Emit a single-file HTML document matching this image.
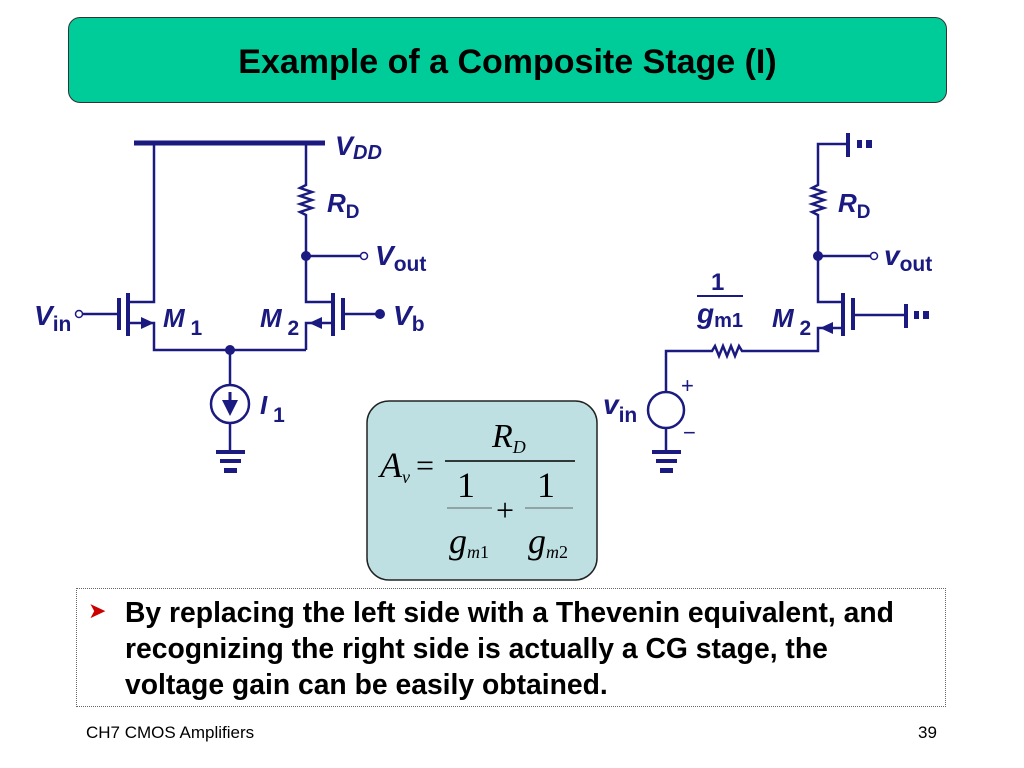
<!DOCTYPE html>
<html><head><meta charset="utf-8"><style>
body{margin:0;width:1024px;height:768px;background:#fff;overflow:hidden;position:relative;font-family:"Liberation Sans",Arial,sans-serif}
.title{position:absolute;left:68px;top:17px;width:877px;height:84px;background:#00cc99;border:1px solid #333;border-radius:12px;text-align:center;line-height:88px;font-size:34px;font-weight:bold;color:#000}
.bul{position:absolute;left:76px;top:588px;width:870px;height:119px;border:1px dotted #666;box-sizing:border-box}
.bt{position:absolute;left:125px;top:594px;font-size:28.3px;font-weight:bold;line-height:36px;color:#000;white-space:nowrap}
.arrow{position:absolute;left:88px;top:598px;color:#cc0000;font-size:22px}
.foot{position:absolute;top:723px;font-size:17px;color:#000}
</style></head><body>
<div class="title">Example of a Composite Stage (I)</div>
<svg width="1024" height="768" style="position:absolute;left:0;top:0" xmlns="http://www.w3.org/2000/svg">
<g stroke="#1a1a80" stroke-width="2.5" fill="none">
<line x1="134" y1="143" x2="325" y2="143" stroke-width="5"/>
<polyline points="154,143 154,302 128,302"/>
<line x1="128" y1="293" x2="128" y2="336" stroke-width="4"/>
<line x1="119" y1="298" x2="119" y2="330" stroke-width="4"/>
<line x1="82" y1="314" x2="119" y2="314"/>
<polyline points="128,323 154,323 154,350 306,350"/>
<polyline points="306,143 306,185 300,188 312,192 300,196 312,200 300,204 312,208 300,212 306,215 306,302 333,302"/>
<line x1="333" y1="293" x2="333" y2="336" stroke-width="4"/>
<line x1="343" y1="298" x2="343" y2="330" stroke-width="4"/>
<line x1="343" y1="314" x2="380" y2="314"/>
<polyline points="333,323 306,323 306,350"/>
<line x1="306" y1="256" x2="360" y2="256"/>
<line x1="230" y1="350" x2="230" y2="385"/>
<circle cx="230" cy="404" r="19"/>
<line x1="230" y1="423" x2="230" y2="450"/>
<polyline points="847,144 818,144 818,185 812,188 824,192 812,196 824,200 812,204 824,208 812,212 818,215 818,302 843,302"/>
<line x1="848" y1="133" x2="848" y2="157" stroke-width="4"/>
<line x1="843" y1="293" x2="843" y2="336" stroke-width="4"/>
<line x1="853" y1="298" x2="853" y2="330" stroke-width="4"/>
<line x1="853" y1="315" x2="905" y2="315"/>
<line x1="906" y1="304" x2="906" y2="328" stroke-width="4"/>
<polyline points="843,328 818,328 818,351 742,351 739,346 735,356 731,346 727,356 723,346 719,356 715,346 712,351 666,351 666,392"/>
<line x1="818" y1="256" x2="870" y2="256"/>
<circle cx="666" cy="410" r="18"/>
<line x1="666" y1="428" x2="666" y2="450"/>
<line x1="697" y1="296" x2="743" y2="296" stroke-width="2"/>
</g>
<g fill="#1a1a80">
<polygon points="154,323 141,317 141,329"/>
<polygon points="309,323 322,317 322,329"/>
<polygon points="820,328 833,322 833,334"/>
<circle cx="230" cy="350" r="5"/>
<circle cx="306" cy="256" r="5"/>
<circle cx="818" cy="256" r="5"/>
<circle cx="380" cy="314" r="5"/>
<polygon points="230,416 222,400 238,400"/>
<line x1="230" y1="392" x2="230" y2="402" stroke="#1a1a80" stroke-width="3"/>
<rect x="216" y="450" width="29" height="4"/><rect x="220" y="459" width="21" height="4"/><rect x="224" y="468" width="13" height="5"/>
<rect x="652" y="450" width="29" height="4"/><rect x="656" y="459" width="21" height="4"/><rect x="660" y="468" width="13" height="5"/>
<rect x="857" y="140" width="5" height="8"/><rect x="866" y="140" width="6" height="8"/>
<rect x="914" y="311" width="5" height="8"/><rect x="923" y="311" width="6" height="8"/>
</g>
<g fill="#fff" stroke="#1a1a80" stroke-width="1.5">
<circle cx="79" cy="314" r="3.5"/><circle cx="364" cy="256" r="3.5"/><circle cx="874" cy="256" r="3.5"/>
</g>
<g fill="#1a1a80" font-family="Liberation Sans,Arial,sans-serif" font-weight="bold">
<text x="335" y="155" font-size="27" font-style="italic">V<tspan font-size="20" dy="4">DD</tspan></text>
<text x="327" y="212" font-size="26" font-style="italic">R<tspan font-size="19" font-style="normal" dy="6">D</tspan></text>
<text x="375" y="265" font-size="28" font-style="italic">V<tspan font-size="21" font-style="normal" dy="6">out</tspan></text>
<text x="34" y="325" font-size="28" font-style="italic">V<tspan font-size="21" font-style="normal" dy="6">in</tspan></text>
<text x="163" y="327" font-size="26" font-style="italic">M<tspan font-size="21" font-style="normal" dy="8"> 1</tspan></text>
<text x="260" y="327" font-size="26" font-style="italic">M<tspan font-size="21" font-style="normal" dy="8"> 2</tspan></text>
<text x="393" y="325" font-size="28" font-style="italic">V<tspan font-size="21" font-style="normal" dy="6">b</tspan></text>
<text x="260" y="414" font-size="26" font-style="italic">I<tspan font-size="21" font-style="normal" dy="8"> 1</tspan></text>
<text x="838" y="212" font-size="26" font-style="italic">R<tspan font-size="19" font-style="normal" dy="6">D</tspan></text>
<text x="884" y="265" font-size="28" font-style="italic">v<tspan font-size="21" font-style="normal" dy="6">out</tspan></text>
<text x="711" y="290" font-size="24">1</text>
<text x="697" y="323" font-size="28" font-style="italic">g<tspan font-size="20" font-style="normal" dy="4">m1</tspan></text>
<text x="772" y="327" font-size="26" font-style="italic">M<tspan font-size="21" font-style="normal" dy="8"> 2</tspan></text>
<text x="603" y="414" font-size="28" font-style="italic">v<tspan font-size="21" font-style="normal" dy="8">in</tspan></text>
<text x="681" y="393" font-size="22" font-weight="normal">+</text>
<text x="683" y="440" font-size="22" font-weight="normal">−</text>
</g>
<rect x="367" y="401" width="230" height="179" rx="22" fill="#bfe0e3" stroke="#222" stroke-width="1.5"/>
<g font-family="Liberation Serif,serif" fill="#000">
<text x="380" y="477" font-size="36" font-style="italic">A<tspan font-size="18" dy="6">v</tspan></text>
<text x="416" y="476" font-size="32">=</text>
<line x1="445" y1="461" x2="575" y2="461" stroke="#000" stroke-width="1.5"/>
<text x="492" y="447" font-size="34" font-style="italic">R<tspan font-size="18" dy="6">D</tspan></text>
<text x="457" y="497" font-size="36">1</text>
<text x="537" y="497" font-size="36">1</text>
<line x1="447" y1="508" x2="492" y2="508" stroke="#666" stroke-width="1"/>
<line x1="525" y1="508" x2="573" y2="508" stroke="#666" stroke-width="1"/>
<text x="496" y="521" font-size="32">+</text>
<text x="449" y="553" font-size="36" font-style="italic">g<tspan font-size="18" dy="5">m</tspan><tspan font-style="normal" font-size="18">1</tspan></text>
<text x="528" y="553" font-size="36" font-style="italic">g<tspan font-size="18" dy="5">m</tspan><tspan font-style="normal" font-size="18">2</tspan></text>
</g>
</svg>
<div class="bul"></div>
<div class="arrow">&#10148;</div>
<div class="bt">By replacing the left side with a Thevenin equivalent, and<br>recognizing the right side is actually a CG stage, the<br>voltage gain can be easily obtained.</div>
<div class="foot" style="left:86px">CH7 CMOS Amplifiers</div>
<div class="foot" style="left:918px">39</div>
</body></html>
